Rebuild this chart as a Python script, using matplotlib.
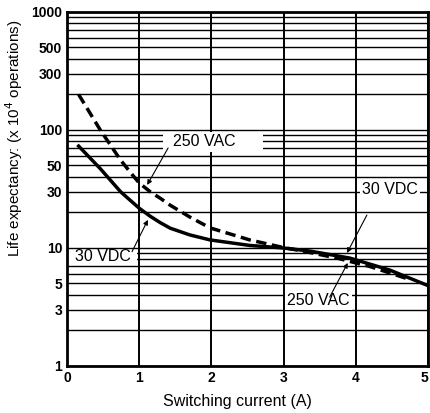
import matplotlib
matplotlib.use("Agg")
import matplotlib.pyplot as plt
from matplotlib.patches import Rectangle

plt.rcParams['font.family'] = ['Liberation Sans', 'DejaVu Sans']

# Data
dc_x = [0.16, 0.46, 0.74, 0.87, 1.0, 1.15, 1.29, 1.43, 1.70, 1.98, 2.53, 2.99, 3.37, 3.92, 4.47, 5.0]
dc_y = [73, 47, 30, 25.5, 21.7, 18.6, 16.4, 14.7, 12.9, 11.7, 10.5, 10.0, 9.4, 8.2, 6.5, 4.8]

ac_x = [0.16, 0.46, 0.74, 0.9, 1.0, 1.15, 1.29, 1.43, 1.70, 1.98, 2.53, 2.99, 3.27, 3.74, 4.2, 4.71]
ac_y = [200, 100, 55.7, 42, 35.5, 30, 26.4, 23, 18.3, 14.8, 11.7, 10.1, 9.4, 8.2, 6.95, 5.5]

x_ticks = [0, 1, 2, 3, 4, 5]
y_ticks = [1, 3, 5, 10, 30, 50, 100, 300, 500, 1000]
y_ticklabels = ['1', '3', '5', '10', '30', '50', '100', '300', '500', '1000']

fig = plt.figure(figsize=(4.30, 4.13), dpi=100)
ax = fig.add_axes([0.156, 0.114, 0.839, 0.857])
ax.set_yscale('log')
ax.set_xlim(0, 5)
ax.set_ylim(1, 1000)

# grid
for d in [1, 10, 100]:
    for m in range(1, 10):
        ax.axhline(d * m, color='black', lw=1.0, zorder=1)
for xv in x_ticks:
    ax.axvline(xv, color='black', lw=1.4, zorder=1)

ax.plot(dc_x, dc_y, color='black', lw=2.5, zorder=3, solid_joinstyle='round')
ax.plot(ac_x, ac_y, color='black', lw=2.5, ls=(0, (3.0, 1.6)), zorder=3)

ax.set_xticks(x_ticks)
ax.set_xticklabels([str(v) for v in x_ticks], fontweight='bold', fontsize=10)
lbls = ax.get_xticklabels()
lbls[-1].set_ha('right')
ax.set_yticks(y_ticks)
ax.set_yticklabels(y_ticklabels, fontweight='bold', fontsize=10)
ax.yaxis.set_minor_locator(matplotlib.ticker.NullLocator())
ax.tick_params(axis='x', length=0, pad=4)
ax.tick_params(axis='y', length=0, pad=3.5)
for s in ax.spines.values():
    s.set_linewidth(2.0)

ax.set_xlabel('Switching current (A)', fontsize=11.5, va='top')
ax.xaxis.set_label_coords(0.472, -0.078)
ax.set_ylabel('Life expectancy: (x 10$^4$ operations)', fontsize=11)
ax.yaxis.set_label_coords(-0.118, 0.644)

# white masks behind the labels
ax.add_patch(Rectangle((1.33, 65), 1.38, 32, facecolor='white', edgecolor='none', zorder=2))
ax.add_patch(Rectangle((0.01, 7.4), 0.96, 2.1, facecolor='white', edgecolor='none', zorder=2))

bbox = dict(facecolor='white', edgecolor='none', pad=1.5)
arrow = dict(arrowstyle='-|>', color='black', lw=0.8, mutation_scale=7, shrinkA=0, shrinkB=0)

ax.text(1.47, 79.4, '250 VAC', fontsize=11.5, ha='left', va='center', zorder=5)
ax.annotate('', xy=(1.11, 34.2), xytext=(1.40, 70.3), arrowprops=arrow, zorder=5)

ax.text(0.11, 8.4, '30 VDC', fontsize=11.5, ha='left', va='center', zorder=5)
ax.annotate('', xy=(1.12, 17.3), xytext=(0.90, 9.3), arrowprops=arrow, zorder=5)

ax.text(4.09, 31, '30 VDC', fontsize=11.5, ha='left', va='center', bbox=bbox, zorder=5)
ax.annotate('', xy=(3.88, 9.07), xytext=(4.155, 19), arrowprops=arrow, zorder=5)

ax.text(3.05, 3.62, '250 VAC', fontsize=11.5, ha='left', va='center', bbox=bbox, zorder=5)
ax.annotate('', xy=(3.89, 7.46), xytext=(3.64, 3.84), arrowprops=arrow, zorder=5)

fig.savefig('out.png', dpi=100)
